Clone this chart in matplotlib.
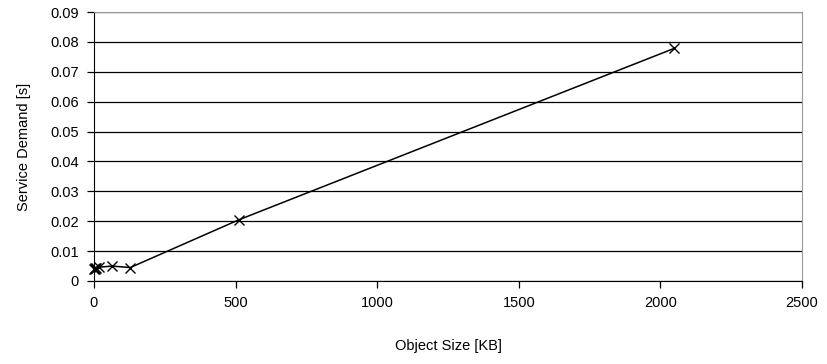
import matplotlib
matplotlib.use("Agg")
from matplotlib import pyplot as plt

# object sizes in KB and measured service demand in seconds
sizes_kb = [1, 2, 4, 8, 16, 64, 128, 512, 2048]
demand_s = [0.0041, 0.0045, 0.0040, 0.0044, 0.0046, 0.0050, 0.0045, 0.0205, 0.0778]

yticks = [0, 0.01, 0.02, 0.03, 0.04, 0.05, 0.06, 0.07, 0.08, 0.09]
ytick_labels = ["0", "0.01", "0.02", "0.03", "0.04", "0.05", "0.06", "0.07", "0.08", "0.09"]
xticks = [0, 500, 1000, 1500, 2000, 2500]

plt.rcParams['font.family'] = ['Liberation Sans', 'DejaVu Sans']

fig = plt.figure(figsize=(8.27, 3.64), dpi=100)
ax = fig.add_axes([94 / 827, 1 - 281 / 364, (802 - 94) / 827, (281 - 12) / 364])

ax.plot(sizes_kb, demand_s, color='black', linewidth=1.1, marker='x',
        markersize=6.5, markeredgewidth=1.0, clip_on=False, zorder=3)

ax.set_xlim(0, 2500)
ax.set_ylim(0, 0.09)
ax.set_xticks(xticks)
ax.set_xticklabels([str(v) for v in xticks])
ax.set_yticks(yticks)
ax.set_yticklabels(ytick_labels)
ax.yaxis.grid(True, color='black', linewidth=0.9)
ax.set_axisbelow(True)

for side in ('top', 'right'):
    ax.spines[side].set_color('#999999')
for side in ('left', 'bottom'):
    ax.spines[side].set_color('black')
ax.tick_params(direction='out', length=5, width=0.9, labelsize=10.5, pad=6)

ax.set_xlabel("Object Size [KB]", fontsize=10.5, labelpad=21)
ax.set_ylabel("Service Demand [s]", fontsize=10.5, labelpad=14)

fig.savefig("out.png", dpi=100)
